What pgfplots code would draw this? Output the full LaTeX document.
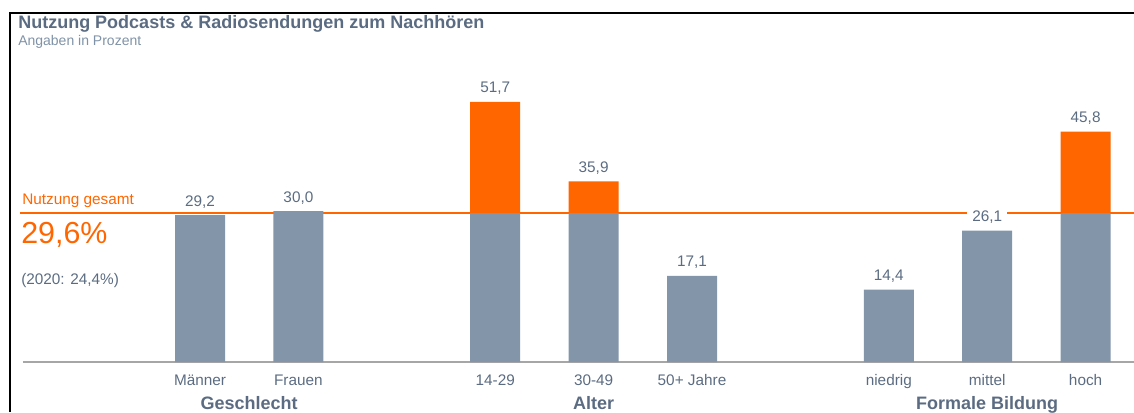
\documentclass[border=0pt]{standalone}
\usepackage{pgfplots}
\pgfplotsset{compat=1.18}
\usepackage{fontspec}
\setmainfont{Liberation Sans}
\definecolor{txtgray}{HTML}{5B6C82}
\definecolor{subgray}{HTML}{7F92A7}
\definecolor{bargray}{HTML}{8295A9}
\definecolor{orng}{HTML}{FF6600}
\definecolor{basegray}{HTML}{A6A6A6}
\newcommand{\nf}{\fontsize{11.5}{13}\selectfont}
\tikzset{vlab/.style={anchor=base, inner sep=0pt, yshift=6.75pt, font=\nf, text=txtgray},
  glab/.style={anchor=base, inner sep=0pt, yshift=-35.25pt, font=\fontsize{13.5}{15}\selectfont\bfseries, text=txtgray}}
\begin{document}
\begin{tikzpicture}
\useasboundingbox (0,0) rectangle (850.5pt,309pt);
\begin{axis}[
  at={(7.5pt,37.5pt)}, anchor=south west,
  scale only axis, width=843pt, height=261.75pt,
  xmin=-1.931, xmax=9.492, ymin=0, ymax=69.38,
  clip=false,
  axis line style={draw=none},
  ytick=\empty,
  xtick={0,1,3,4,5,7,8,9},
  xticklabels={Männer,Frauen,14-29,30-49,50+ Jahre,niedrig,mittel,hoch},
  xtick style={draw=none},
  major tick length=0pt,
  xticklabel style={anchor=base, yshift=-17.25pt, inner sep=0pt, font=\nf, text=txtgray},
  ybar stacked, bar width=37.5pt,
]
\addplot[fill=bargray, draw=none] coordinates {(0,29.2) (1,30.0) (3,29.6) (4,29.6) (5,17.1) (7,14.4) (8,26.1) (9,29.6)};
\addplot[fill=orng, draw=none] coordinates {(0,0) (1,0) (3,22.1) (4,6.3) (5,0) (7,0) (8,0) (9,16.2)};
\draw[orng, line width=1.5pt] (axis cs:-1.829,29.6) -- (axis cs:9.492,29.6);
\draw[basegray, line width=1.1pt] (axis cs:-1.799,0) -- (axis cs:9.492,0);
\node[vlab] at (axis cs:0,29.2) {29,2};
\node[vlab] at (axis cs:1,30.0) {30,0};
\node[vlab] at (axis cs:3,51.7) {51,7};
\node[vlab] at (axis cs:4,35.9) {35,9};
\node[vlab] at (axis cs:5,17.1) {17,1};
\node[vlab] at (axis cs:7,14.4) {14,4};
\node[vlab] at (axis cs:9,45.8) {45,8};
\coordinate (l26) at (axis cs:8,26.1);
\node[glab] at (axis cs:0.5,0) {Geschlecht};
\node[glab] at (axis cs:4,0) {Alter};
\node[glab] at (axis cs:8,0) {Formale Bildung};
\end{axis}
\node[vlab, inner xsep=3.75pt, inner ysep=2pt, fill=white] at (l26) {26,1};
\draw[black, line width=1.5pt] (7.5pt,0pt) -- (7.5pt,299.25pt) -- (850.5pt,299.25pt);
\node[anchor=base west, inner sep=0pt, font=\fontsize{13.5}{15}\selectfont\bfseries, text=txtgray] at (13.5pt,288pt) {Nutzung Podcasts \& Radiosendungen zum Nachhören};
\node[anchor=base west, inner sep=0pt, font=\fontsize{10.5}{12}\selectfont, text=subgray] at (13.5pt,275.25pt) {Angaben in Prozent};
\node[anchor=base west, inner sep=0pt, font=\nf, text=orng] at (16.5pt,156pt) {Nutzung gesamt};
\node[anchor=base west, inner sep=0pt, font=\fontsize{22.8}{26}\selectfont, text=orng] at (15.75pt,126.75pt) {29,6\%};
\node[anchor=base west, inner sep=0pt, font=\nf, text=txtgray] at (15.75pt,96pt) {(2020: 24,4\%)};
\end{tikzpicture}
\end{document}
